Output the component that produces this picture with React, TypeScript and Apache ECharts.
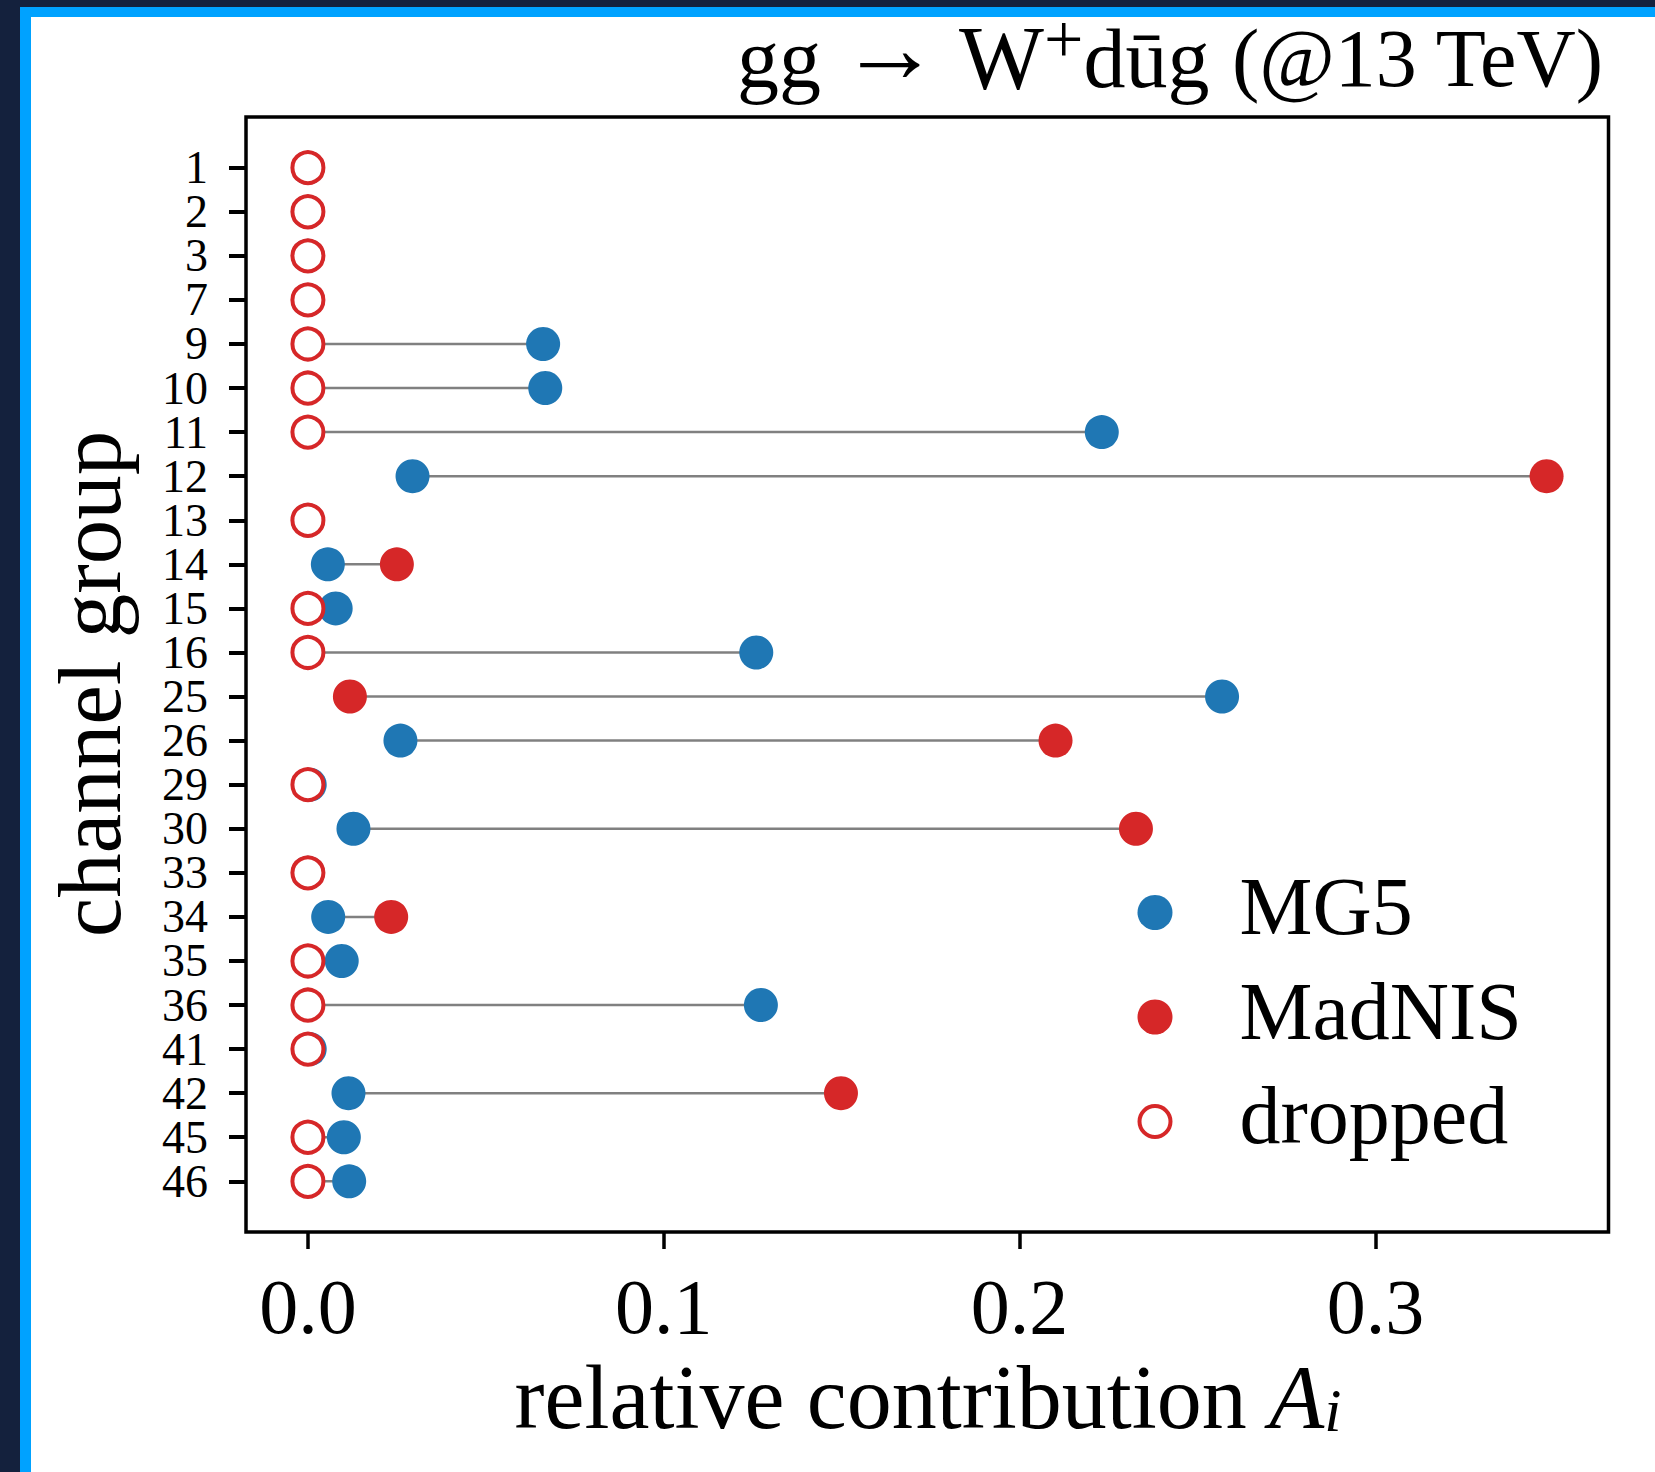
import React, { useEffect, useRef } from "react";
import * as echarts from "echarts";

// channel groups (top to bottom)
const categories = ["1", "2", "3", "7", "9", "10", "11", "12", "13", "14", "15", "16", "25", "26", "29", "30", "33", "34", "35", "36", "41", "42", "45", "46"];
// MG5 relative contributions
const mg5 = [0, 0, 0, 0, 0.0661, 0.0667, 0.2231, 0.0294, 0, 0.0056, 0.0078, 0.126, 0.2569, 0.026, 0.0005, 0.0128, 0, 0.0057, 0.0095, 0.1273, 0.0005, 0.0114, 0.0101, 0.0116];
// MadNIS relative contributions (null = channel dropped)
const madnis: (number | null)[] = [null, null, null, null, null, null, null, 0.3481, null, 0.025, null, null, 0.0118, 0.2101, null, 0.2327, null, 0.0234, null, null, null, 0.1498, null, null];
// dropped flags
const dropped = [1, 1, 1, 1, 1, 1, 1, 0, 1, 0, 1, 1, 0, 0, 1, 0, 1, 0, 1, 1, 1, 0, 1, 1];
// x-axis ticks
const xTicks = [0, 0.1, 0.2, 0.3];
const xTickLabels = ["0.0", "0.1", "0.2", "0.3"];

const BLUE = "#1f77b4";
const RED = "#d62728";
const SERIF = "'Liberation Serif', 'DejaVu Serif', serif";

export default function App() {
  const ref = useRef<HTMLDivElement>(null);

  useEffect(() => {
    document.body.style.margin = "0";
    document.body.style.overflow = "hidden";
    if (!ref.current) return;
    const chart = echarts.init(ref.current, null, { renderer: "svg" });

    const stems = categories.map((_, i) => [mg5[i], madnis[i] ?? 0, i]);
    const mgData = categories.map((_, i) => [mg5[i], i]);
    const madData = categories
      .map((_, i) => (madnis[i] == null ? null : [madnis[i] as number, i]))
      .filter((d) => d !== null);
    const dropData = categories
      .map((_, i) => (dropped[i] ? [0, i] : null))
      .filter((d) => d !== null);
    const yIdx = categories.map((_, i) => i);
    const yEven = yIdx.filter((i) => i % 2 === 0);
    const yOdd = yIdx.filter((i) => i % 2 === 1);

    const ring =
      "path://M17.5 0A17.5 17.5 0 1 1 17.5 35A17.5 17.5 0 1 1 17.5 0ZM17.5 4A13.5 13.5 0 1 0 17.5 31A13.5 13.5 0 1 0 17.5 4Z";

    const yLabelRich = { t: { fontFamily: SERIF, fontSize: 46, lineHeight: 30, color: "#000" } };
    const yFmt = (v: number) => "{t|" + (categories[Math.round(v)] ?? "") + "}";

    chart.setOption({
      animation: false,
      backgroundColor: "transparent",
      grid: {
        left: 246,
        top: 117,
        width: 1362.5,
        height: 1115,
        show: true,
        borderColor: "#000",
        borderWidth: 3.5,
        backgroundColor: "transparent",
        containLabel: false,
        outerBoundsMode: "none",
      },
      xAxis: {
        type: "value",
        position: "bottom",
        min: -0.0174,
        max: 0.3655,
        axisLine: { show: false, onZero: false },
        splitLine: { show: false },
        axisTick: {
          show: true,
          inside: false,
          length: 17,
          customValues: xTicks,
          lineStyle: { color: "#000", width: 3.5 },
        },
        axisLabel: {
          customValues: xTicks,
          margin: 35,
          fontFamily: SERIF,
          fontSize: 78,
          lineHeight: 78,
          color: "#000",
          showMinLabel: true,
          showMaxLabel: true,
          formatter: (v: number) => {
            const k = xTicks.findIndex((t) => Math.abs(t - v) < 1e-9);
            return k >= 0 ? xTickLabels[k] : "";
          },
        },
      },
      yAxis: [
        {
          type: "value",
          position: "left",
          inverse: true,
          min: -1.15,
          max: 24.15,
          axisLine: { show: false, onZero: false },
          splitLine: { show: false },
          axisTick: {
            show: true,
            inside: false,
            length: 17,
            customValues: yIdx,
            lineStyle: { color: "#000", width: 4 },
          },
          axisLabel: {
            customValues: yEven,
            margin: 38,
            color: "#000",
            hideOverlap: false,
            showMinLabel: true,
            showMaxLabel: true,
            formatter: yFmt,
            rich: yLabelRich,
          },
        },
        {
          type: "value",
          position: "left",
          offset: 0,
          inverse: true,
          min: -1.15,
          max: 24.15,
          axisLine: { show: false, onZero: false },
          splitLine: { show: false },
          axisTick: { show: false },
          axisLabel: {
            customValues: yOdd,
            margin: 38,
            color: "#000",
            hideOverlap: false,
            showMinLabel: true,
            showMaxLabel: true,
            formatter: yFmt,
            rich: yLabelRich,
          },
        },
      ],
      legend: {
        orient: "vertical",
        left: 1137.5,
        top: 865.5,
        padding: 0,
        itemWidth: 35,
        itemHeight: 35,
        itemGap: 10.5,
        selectedMode: false,
        formatter: "{t|{name}}",
        textStyle: {
          color: "#000",
          rich: {
            t: { fontFamily: SERIF, fontSize: 82, lineHeight: 35, padding: [0, 0, 12, 62], color: "#000" },
          },
        },
        data: [
          { name: "MG5", icon: "circle" },
          { name: "MadNIS", icon: "circle" },
          { name: "dropped", icon: ring, itemStyle: { color: RED, borderWidth: 0 } },
        ],
      },
      graphic: [
        {
          type: "text",
          x: 1603,
          y: 58,
          style: {
            text: "{m|gg}{sp| }{ar|→}{sp| }{w|W}{s|+}{m|dūg }{r|(@13 TeV)}",
            align: "right",
            verticalAlign: "middle",
            fill: "#000",
            rich: {
              m: { fontFamily: SERIF, fontSize: 84, lineHeight: 82, fill: "#000" },
              sp: { fontFamily: SERIF, fontSize: 76, lineHeight: 82, fill: "#000" },
              w: { fontFamily: SERIF, fontSize: 90, lineHeight: 82, fill: "#000" },
              ar: { fontFamily: SERIF, fontSize: 100, lineHeight: 82, padding: [0, 0, 20, 0], fill: "#000" },
              s: { fontFamily: SERIF, fontSize: 70, lineHeight: 82, padding: [0, 0, 38, 0], fill: "#000" },
              r: { fontFamily: SERIF, fontSize: 82, lineHeight: 82, fill: "#000" },
            },
          },
        },
        {
          type: "text",
          x: 928,
          y: 1397,
          style: {
            text: "{m|relative contribution }{a|A}{i|i}",
            align: "center",
            verticalAlign: "middle",
            fill: "#000",
            rich: {
              m: { fontFamily: SERIF, fontSize: 90, lineHeight: 88, fill: "#000" },
              a: { fontFamily: SERIF, fontSize: 90, lineHeight: 88, fontStyle: "italic", fill: "#000" },
              i: { fontFamily: SERIF, fontSize: 62, lineHeight: 40, fontStyle: "italic", verticalAlign: "bottom", fill: "#000" },
            },
          },
        },
        {
          type: "text",
          x: 90,
          y: 684,
          rotation: Math.PI / 2,
          style: {
            text: "channel group",
            align: "center",
            verticalAlign: "middle",
            fontFamily: SERIF,
            fontSize: 89,
            lineHeight: 88,
            fill: "#000",
          },
        },
      ],
      series: [
        {
          type: "custom",
          name: "stems",
          silent: true,
          z: 1,
          yAxisIndex: 0,
          encode: { x: [0, 1], y: 2 },
          data: stems,
          renderItem: (_params: any, api: any) => {
            const a = api.coord([api.value(0), api.value(2)]);
            const b = api.coord([api.value(1), api.value(2)]);
            return {
              type: "line",
              shape: { x1: a[0], y1: a[1], x2: b[0], y2: b[1] },
              style: { stroke: "#808080", lineWidth: 2.5 },
            };
          },
        },
        {
          type: "scatter",
          name: "MG5",
          z: 3,
          yAxisIndex: 0,
          symbol: "circle",
          symbolSize: 34,
          itemStyle: { color: BLUE, opacity: 1 },
          data: mgData,
        },
        {
          type: "scatter",
          name: "MadNIS",
          z: 4,
          yAxisIndex: 0,
          symbol: "circle",
          symbolSize: 34,
          itemStyle: { color: RED, opacity: 1 },
          data: madData,
        },
        {
          type: "scatter",
          name: "dropped",
          z: 5,
          yAxisIndex: 0,
          symbol: "circle",
          symbolSize: 31,
          itemStyle: { color: "#ffffff", borderColor: RED, borderWidth: 4, opacity: 1 },
          data: dropData,
        },
      ],
    });

    return () => chart.dispose();
  }, []);

  return (
    <div style={{ position: "relative", width: 1655, height: 1472, background: "#14213d", overflow: "hidden" }}>
      <div style={{ position: "absolute", left: 20, top: 7, right: 0, bottom: 0, background: "#00a2ff" }} />
      <div style={{ position: "absolute", left: 31, top: 17, right: 0, bottom: 0, background: "#ffffff" }} />
      <div ref={ref} style={{ position: "absolute", left: 0, top: 0, width: 1655, height: 1472 }} />
    </div>
  );
}
